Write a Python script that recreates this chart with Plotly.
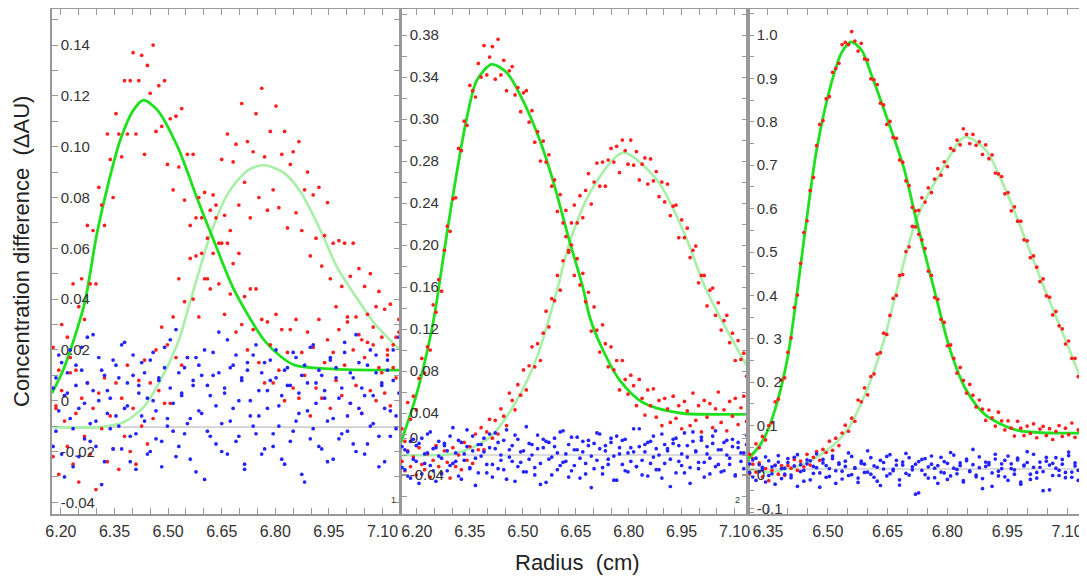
import plotly.graph_objects as go

# ---------------- data ----------------
# radius grids (cm)
p1_radius = [6.178, 6.186, 6.194, 6.202, 6.210, 6.218, 6.226, 6.234, 6.242, 6.250,
             6.258, 6.266, 6.274, 6.282, 6.290, 6.298, 6.306, 6.314, 6.322, 6.330,
             6.338, 6.346, 6.354, 6.362, 6.370, 6.378, 6.386, 6.394, 6.402, 6.410,
             6.418, 6.426, 6.434, 6.442, 6.450, 6.458, 6.466, 6.474, 6.482, 6.490,
             6.498, 6.506, 6.514, 6.522, 6.530, 6.538, 6.546, 6.554, 6.562, 6.570,
             6.578, 6.586, 6.594, 6.602, 6.610, 6.618, 6.626, 6.634, 6.642, 6.650,
             6.658, 6.666, 6.674, 6.682, 6.690, 6.698, 6.706, 6.714, 6.722, 6.730,
             6.738, 6.746, 6.754, 6.762, 6.770, 6.778, 6.786, 6.794, 6.802, 6.810,
             6.818, 6.826, 6.834, 6.842, 6.850, 6.858, 6.866, 6.874, 6.882, 6.890,
             6.898, 6.906, 6.914, 6.922, 6.930, 6.938, 6.946, 6.954, 6.962, 6.970,
             6.978, 6.986, 6.994, 7.002, 7.010, 7.018, 7.026, 7.034, 7.042, 7.050,
             7.058, 7.066, 7.074, 7.082, 7.090, 7.098, 7.106, 7.114, 7.122, 7.130,
             7.138, 7.146]
p2_radius = [6.158, 6.166, 6.174, 6.182, 6.190, 6.198, 6.206, 6.214, 6.222, 6.230,
             6.238, 6.246, 6.254, 6.262, 6.270, 6.278, 6.286, 6.294, 6.302, 6.310,
             6.318, 6.326, 6.334, 6.342, 6.350, 6.358, 6.366, 6.374, 6.382, 6.390,
             6.398, 6.406, 6.414, 6.422, 6.430, 6.438, 6.446, 6.454, 6.462, 6.470,
             6.478, 6.486, 6.494, 6.502, 6.510, 6.518, 6.526, 6.534, 6.542, 6.550,
             6.558, 6.566, 6.574, 6.582, 6.590, 6.598, 6.606, 6.614, 6.622, 6.630,
             6.638, 6.646, 6.654, 6.662, 6.670, 6.678, 6.686, 6.694, 6.702, 6.710,
             6.718, 6.726, 6.734, 6.742, 6.750, 6.758, 6.766, 6.774, 6.782, 6.790,
             6.798, 6.806, 6.814, 6.822, 6.830, 6.838, 6.846, 6.854, 6.862, 6.870,
             6.878, 6.886, 6.894, 6.902, 6.910, 6.918, 6.926, 6.934, 6.942, 6.950,
             6.958, 6.966, 6.974, 6.982, 6.990, 6.998, 7.006, 7.014, 7.022, 7.030,
             7.038, 7.046, 7.054, 7.062, 7.070, 7.078, 7.086, 7.094, 7.102, 7.110,
             7.118, 7.126, 7.134]
p3_radius = [6.304, 6.312, 6.320, 6.328, 6.336, 6.344, 6.352, 6.360, 6.368, 6.376,
             6.384, 6.392, 6.400, 6.408, 6.416, 6.424, 6.432, 6.440, 6.448, 6.456,
             6.464, 6.472, 6.480, 6.488, 6.496, 6.504, 6.512, 6.520, 6.528, 6.536,
             6.544, 6.552, 6.560, 6.568, 6.576, 6.584, 6.592, 6.600, 6.608, 6.616,
             6.624, 6.632, 6.640, 6.648, 6.656, 6.664, 6.672, 6.680, 6.688, 6.696,
             6.704, 6.712, 6.720, 6.728, 6.736, 6.744, 6.752, 6.760, 6.768, 6.776,
             6.784, 6.792, 6.800, 6.808, 6.816, 6.824, 6.832, 6.840, 6.848, 6.856,
             6.864, 6.872, 6.880, 6.888, 6.896, 6.904, 6.912, 6.920, 6.928, 6.936,
             6.944, 6.952, 6.960, 6.968, 6.976, 6.984, 6.992, 7.000, 7.008, 7.016,
             7.024, 7.032, 7.040, 7.048, 7.056, 7.064, 7.072, 7.080, 7.088, 7.096,
             7.104, 7.112, 7.120, 7.128, 7.136]

# ----- panel 1 -----
p1_red_a = [0.021, -0.003, 0.012, 0.030, 0.002, 0.025, 0.017, 0.046, 0.012, 0.037,
            0.048, 0.032, 0.069, 0.046, 0.067, 0.046, 0.084, 0.077, 0.069, 0.105,
            0.095, 0.080, 0.113, 0.105, 0.096, 0.126, 0.105, 0.126, 0.137, 0.105,
            0.126, 0.136, 0.097, 0.132, 0.121, 0.140, 0.106, 0.124, 0.108, 0.126,
            0.093, 0.111, 0.083, 0.112, 0.092, 0.115, 0.079, 0.097, 0.069, 0.097,
            0.072, 0.080, 0.058, 0.082, 0.048, 0.075, 0.058, 0.077, 0.046, 0.062,
            0.034, 0.062, 0.042, 0.054, 0.027, 0.058, 0.030, 0.041, 0.020, 0.044,
            0.028, 0.044, 0.015, 0.032, 0.007, 0.031, 0.022, 0.007, 0.034, 0.012,
            0.028, 0.000, 0.019, 0.028, 0.005, 0.032, 0.001, 0.019, 0.010, 0.027,
            -0.006, 0.021, 0.005, 0.032, 0.001, 0.015, 0.024, -0.003, 0.019, 0.008,
            0.028, 0.002, 0.014, 0.031, -0.001, 0.020, 0.006, 0.026, -0.005, 0.017,
            0.023, 0.004, 0.029, 0.000, 0.013, 0.025, 0.003, 0.018, -0.002, 0.022,
            0.009, 0.027]
p1_red_b = [-0.022, -0.002, -0.029, 0.004, -0.008, -0.018, 0.011, -0.025, -0.005, -0.032,
            0.001, -0.014, 0.007, -0.021, -0.003, -0.035, 0.003, -0.011, 0.009, -0.024,
            -0.006, -0.019, 0.007, -0.027, 0.001, -0.014, 0.014, -0.020, -0.003, -0.025,
            0.008, -0.010, 0.016, -0.017, 0.007, -0.007, 0.020, 0.004, 0.029, -0.001,
            0.022, -0.001, 0.033, 0.017, 0.048, 0.014, 0.039, 0.017, 0.056, 0.040,
            0.057, 0.033, 0.072, 0.048, 0.064, 0.044, 0.081, 0.072, 0.062, 0.095,
            0.073, 0.105, 0.067, 0.094, 0.101, 0.077, 0.117, 0.086, 0.102, 0.072,
            0.098, 0.113, 0.080, 0.123, 0.096, 0.075, 0.106, 0.083, 0.116, 0.076,
            0.097, 0.106, 0.068, 0.093, 0.098, 0.074, 0.102, 0.067, 0.083, 0.090,
            0.057, 0.081, 0.064, 0.084, 0.053, 0.065, 0.078, 0.048, 0.062, 0.037,
            0.063, 0.045, 0.062, 0.033, 0.049, 0.062, 0.033, 0.052, 0.024, 0.045,
            0.034, 0.050, 0.022, 0.037, 0.043, 0.011, 0.036, 0.020, 0.038, 0.013,
            0.025, 0.032]
p1_blue_a = [0.005, -0.012, 0.018, -0.021, 0.002, 0.011, -0.007, -0.026, 0.014, -0.003,
             0.021, -0.015, 0.007, -0.009, 0.026, -0.018, 0.000, 0.012, -0.024, 0.004,
             -0.011, 0.016, -0.006, 0.009, -0.019, 0.023, -0.002, -0.014, 0.010, -0.027,
             0.006, 0.015, -0.008, 0.001, -0.020, 0.019, -0.004, 0.008, -0.016, 0.013,
             -0.010, 0.024, -0.001, -0.022, 0.011, 0.003, -0.013, 0.017, -0.007, 0.006,
             -0.028, 0.014, -0.005, 0.020, -0.012, 0.002, 0.010, -0.017, 0.027, -0.009,
             0.005, -0.021, 0.013, -0.003, 0.018, -0.014, 0.008, -0.025, 0.015, 0.000,
             -0.010, 0.022, -0.006, 0.011, -0.019, 0.004, 0.016, -0.013, 0.009, -0.002,
             -0.023, 0.012, 0.006, -0.016, 0.019, -0.008, 0.003, -0.029, 0.014, -0.004,
             0.021, -0.011, 0.007, -0.018, 0.010, 0.001, -0.024, 0.017, -0.007, 0.013,
             -0.015, 0.005, 0.023, -0.012, -0.001, 0.009, -0.020, 0.015, -0.005, 0.002,
             -0.017, 0.020, -0.009, 0.011, -0.026, 0.006, -0.003, 0.016, -0.014, 0.008,
             -0.006, 0.025]
p1_blue_b = [-0.018, 0.009, -0.004, 0.015, -0.030, 0.003, 0.020, -0.011, 0.006, -0.022,
             0.012, -0.001, 0.025, -0.016, 0.004, -0.008, 0.017, -0.033, 0.010, -0.005,
             0.001, -0.019, 0.014, -0.010, 0.022, -0.003, 0.007, -0.024, 0.018, -0.013,
             0.003, -0.006, 0.011, -0.021, 0.016, 0.000, -0.015, 0.009, -0.026, 0.021,
             -0.007, 0.005, -0.012, 0.028, -0.018, 0.002, 0.013, -0.009, -0.023, 0.008,
             0.017, -0.004, 0.010, -0.031, 0.006, -0.014, 0.019, -0.002, 0.011, -0.020,
             0.003, 0.024, -0.008, 0.014, -0.016, 0.000, 0.009, -0.027, 0.012, -0.006,
             0.018, -0.013, 0.004, -0.021, 0.015, -0.003, 0.008, -0.018, 0.020, -0.010,
             0.002, -0.025, 0.013, 0.006, -0.012, 0.017, -0.005, 0.010, -0.032, 0.007,
             -0.015, 0.022, -0.001, 0.012, -0.019, 0.004, -0.008, 0.016, -0.023, 0.009,
             0.001, -0.013, 0.019, -0.006, 0.011, -0.017, 0.026, -0.003, 0.005, -0.021,
             0.014, -0.010, 0.002, 0.018, -0.014, 0.007, -0.024, 0.012, -0.004, 0.020,
             -0.011, 0.003]
p1_fit_dark_x = [6.175, 6.206, 6.245, 6.268, 6.301, 6.330, 6.366, 6.403, 6.431, 6.470,
                 6.527, 6.583, 6.628, 6.685, 6.769, 6.817, 6.854, 6.921, 7.000, 7.149]
p1_fit_dark_y = [0.003, 0.012, 0.028, 0.0395, 0.066, 0.084, 0.1026, 0.1144, 0.1183, 0.1144,
                 0.0998, 0.079, 0.063, 0.0435, 0.0238, 0.0172, 0.014, 0.0128, 0.0122, 0.012]
p1_fit_light_x = [6.175, 6.310, 6.375, 6.431, 6.479, 6.527, 6.563, 6.620, 6.668, 6.724,
                  6.769, 6.825, 6.873, 6.930, 6.973, 7.030, 7.080, 7.149]
p1_fit_light_y = [-0.0104, -0.0104, -0.0085, -0.0026, 0.0081, 0.0227, 0.0396, 0.066, 0.0817, 0.0908,
                  0.0927, 0.0896, 0.0817, 0.066, 0.0525, 0.040, 0.030, 0.020]
p1_baseline = -0.0104
p1_ytick_vals = [0.14, 0.12, 0.10, 0.08, 0.06, 0.04, 0.02, 0.0, -0.02, -0.04]
p1_ytick_text = ["0.14", "0.12", "0.10", "0.08", "0.06", "0.04", "0.02", "0", "-0.02", "-0.04"]
p1_xtick_vals = [6.20, 6.35, 6.50, 6.65, 6.80, 6.95, 7.10]

# ----- panel 2 -----
p2_red_a = [0.025, 0.013, 0.050, 0.034, 0.056, 0.043, 0.073, 0.092, 0.078, 0.103,
            0.100, 0.143, 0.136, 0.167, 0.156, 0.195, 0.218, 0.213, 0.244, 0.245,
            0.292, 0.290, 0.318, 0.314, 0.352, 0.347, 0.341, 0.373, 0.360, 0.390,
            0.362, 0.379, 0.389, 0.358, 0.396, 0.362, 0.376, 0.347, 0.366, 0.370,
            0.343, 0.350, 0.327, 0.345, 0.347, 0.317, 0.328, 0.298, 0.308, 0.280,
            0.299, 0.279, 0.286, 0.256, 0.262, 0.232, 0.248, 0.221, 0.233, 0.195,
            0.200, 0.171, 0.187, 0.162, 0.173, 0.146, 0.155, 0.118, 0.141, 0.119,
            0.098, 0.124, 0.106, 0.084, 0.103, 0.081, 0.090, 0.062, 0.090, 0.072,
            0.058, 0.076, 0.066, 0.047, 0.072, 0.054, 0.038, 0.062, 0.047, 0.063,
            0.036, 0.052, 0.028, 0.054, 0.044, 0.031, 0.056, 0.035, 0.047, 0.025,
            0.051, 0.042, 0.028, 0.059, 0.033, 0.047, 0.022, 0.052, 0.036, 0.049,
            0.026, 0.044, 0.060, 0.031, 0.043, 0.023, 0.051, 0.037, 0.054, 0.029,
            0.045, 0.056, 0.032]
p2_red_b = [-0.006, -0.015, 0.004, -0.011, -0.002, -0.019, 0.007, -0.009, -0.014, 0.001,
            -0.021, -0.005, 0.009, -0.011, -0.017, 0.004, -0.007, -0.022, 0.007, -0.011,
            0.000, -0.014, 0.012, -0.005, 0.008, -0.008, 0.020, 0.005, 0.026, 0.005,
            0.022, 0.034, 0.016, 0.033, 0.020, 0.044, 0.037, 0.028, 0.059, 0.052,
            0.043, 0.067, 0.057, 0.081, 0.062, 0.085, 0.103, 0.084, 0.106, 0.090,
            0.116, 0.137, 0.122, 0.149, 0.147, 0.171, 0.157, 0.185, 0.208, 0.193,
            0.221, 0.238, 0.221, 0.247, 0.226, 0.252, 0.268, 0.239, 0.260, 0.278,
            0.256, 0.279, 0.256, 0.281, 0.292, 0.279, 0.294, 0.269, 0.300, 0.290,
            0.277, 0.300, 0.276, 0.289, 0.262, 0.277, 0.283, 0.258, 0.282, 0.261,
            0.270, 0.246, 0.260, 0.241, 0.258, 0.228, 0.237, 0.238, 0.207, 0.224,
            0.207, 0.216, 0.188, 0.195, 0.199, 0.164, 0.171, 0.171, 0.142, 0.157,
            0.159, 0.133, 0.145, 0.119, 0.128, 0.133, 0.107, 0.116, 0.090, 0.109,
            0.091, 0.097, 0.075]
p2_blue_a = [0.008, -0.014, 0.003, -0.022, 0.015, -0.006, 0.011, -0.018, 0.001, 0.020,
             -0.010, 0.006, -0.025, 0.013, -0.003, 0.009, -0.015, 0.018, -0.008, 0.002,
             -0.020, 0.012, -0.005, 0.024, -0.012, 0.004, -0.029, 0.010, -0.001, 0.016,
             -0.017, 0.007, -0.009, 0.021, -0.013, 0.000, 0.014, -0.023, 0.005, -0.006,
             0.019, -0.011, 0.003, -0.016, 0.027, -0.004, 0.010, -0.019, 0.006, -0.008,
             0.015, -0.026, 0.012, -0.002, 0.008, -0.014, 0.022, -0.007, 0.001, -0.021,
             0.017, -0.010, 0.005, -0.003, 0.013, -0.018, 0.009, -0.031, 0.011, -0.005,
             0.020, -0.012, 0.004, -0.009, 0.016, -0.001, -0.024, 0.007, 0.014, -0.015,
             0.002, -0.006, 0.025, -0.011, 0.008, -0.019, 0.003, 0.012, -0.008, 0.018,
             -0.014, 0.000, -0.022, 0.010, 0.006, -0.004, 0.015, -0.017, 0.009, -0.010,
             0.021, -0.002, -0.027, 0.013, 0.004, -0.013, 0.017, -0.007, 0.001, -0.018,
             0.011, 0.023, -0.009, 0.005, -0.015, 0.014, -0.003, 0.008, -0.020, 0.012,
             -0.006, 0.002, 0.019]
p2_blue_b = [-0.012, 0.005, -0.020, 0.013, -0.004, 0.009, -0.027, 0.016, -0.008, 0.002,
             0.022, -0.015, 0.007, -0.001, -0.018, 0.011, 0.004, -0.010, 0.026, -0.006,
             0.014, -0.023, 0.001, 0.008, -0.013, 0.018, -0.003, -0.017, 0.010, 0.003,
             -0.009, 0.020, -0.021, 0.006, 0.012, -0.005, -0.014, 0.024, -0.002, 0.009,
             -0.025, 0.015, -0.007, 0.004, -0.016, 0.011, 0.000, -0.012, 0.019, -0.028,
             0.007, 0.013, -0.004, -0.019, 0.016, 0.002, -0.010, 0.023, -0.006, 0.010,
             -0.015, 0.005, 0.017, -0.022, 0.003, -0.008, 0.014, -0.001, -0.013, 0.021,
             0.006, -0.018, 0.009, -0.004, 0.012, -0.024, 0.018, 0.001, -0.009, 0.015,
             -0.016, 0.007, 0.003, -0.011, 0.025, -0.005, 0.010, -0.020, 0.013, -0.002,
             0.006, -0.014, 0.020, -0.008, 0.004, -0.030, 0.011, 0.016, -0.006, 0.001,
             -0.017, 0.009, -0.012, 0.022, 0.003, -0.007, 0.014, -0.021, 0.008, -0.003,
             0.018, -0.011, 0.005, -0.016, 0.012, 0.000, -0.009, 0.015, -0.019, 0.007,
             0.002, -0.013, 0.010]
p2_fit_dark_x = [6.155, 6.194, 6.217, 6.242, 6.257, 6.285, 6.313, 6.342, 6.370, 6.412,
                 6.455, 6.500, 6.548, 6.585, 6.633, 6.670, 6.690, 6.727, 6.775, 6.840, 6.945, 7.138]
p2_fit_dark_y = [0.012, 0.052, 0.081, 0.119, 0.148, 0.211, 0.269, 0.322, 0.357, 0.372,
                 0.364, 0.338, 0.300, 0.262, 0.203, 0.160, 0.131, 0.100, 0.071, 0.050, 0.040, 0.039]
p2_fit_light_x = [6.155, 6.313, 6.407, 6.483, 6.540, 6.597, 6.633, 6.699, 6.784, 6.880,
                  6.954, 7.016, 7.067, 7.138]
p2_fit_light_y = [0.000, 0.002, 0.017, 0.052, 0.093, 0.157, 0.203, 0.255, 0.288, 0.262,
                  0.214, 0.160, 0.126, 0.083]
p2_baseline = 0.0
p2_ytick_vals = [0.40, 0.36, 0.32, 0.28, 0.24, 0.20, 0.16, 0.12, 0.08, 0.04, 0.016, -0.019]
p2_ytick_text = ["0.38", "0.34", "0.30", "0.28", "0.24", "0.20", "0.16", "0.12", "0.08", "0.04", "0", "-0.04"]
p2_xtick_vals = [6.20, 6.35, 6.50, 6.65, 6.80, 6.95, 7.10]

# ----- panel 3 -----
p3_red_a = [0.034, 0.024, 0.058, 0.049, 0.075, 0.067, 0.100, 0.107, 0.155, 0.161,
            0.205, 0.210, 0.269, 0.302, 0.372, 0.401, 0.474, 0.545, 0.572, 0.642,
            0.672, 0.745, 0.794, 0.803, 0.853, 0.858, 0.914, 0.923, 0.935, 0.978,
            0.983, 0.978, 1.008, 0.986, 0.963, 0.981, 0.945, 0.943, 0.899, 0.897,
            0.886, 0.843, 0.839, 0.794, 0.801, 0.764, 0.762, 0.712, 0.707, 0.664,
            0.653, 0.603, 0.595, 0.541, 0.528, 0.508, 0.456, 0.446, 0.395, 0.391,
            0.345, 0.338, 0.284, 0.286, 0.255, 0.221, 0.234, 0.204, 0.175, 0.195,
            0.170, 0.143, 0.159, 0.138, 0.112, 0.136, 0.118, 0.099, 0.131, 0.111,
            0.090, 0.111, 0.094, 0.076, 0.110, 0.094, 0.077, 0.099, 0.082, 0.104,
            0.072, 0.092, 0.098, 0.077, 0.093, 0.068, 0.087, 0.100, 0.075, 0.094,
            0.079, 0.106, 0.073, 0.090, 0.097]
p3_red_b = [-0.010, 0.011, -0.007, 0.014, -0.018, 0.001, -0.027, -0.003, 0.009, -0.012,
            0.008, -0.015, 0.008, 0.002, 0.022, -0.003, 0.018, 0.005, 0.034, 0.009,
            0.027, 0.040, 0.020, 0.045, 0.038, 0.064, 0.043, 0.071, 0.054, 0.083,
            0.101, 0.087, 0.117, 0.110, 0.159, 0.155, 0.187, 0.171, 0.213, 0.219,
            0.265, 0.268, 0.313, 0.310, 0.354, 0.393, 0.400, 0.446, 0.448, 0.501,
            0.512, 0.559, 0.558, 0.596, 0.625, 0.615, 0.648, 0.637, 0.668, 0.692,
            0.677, 0.708, 0.697, 0.739, 0.734, 0.758, 0.747, 0.784, 0.771, 0.750,
            0.771, 0.746, 0.754, 0.725, 0.747, 0.715, 0.724, 0.682, 0.680, 0.674,
            0.634, 0.637, 0.595, 0.604, 0.571, 0.571, 0.528, 0.526, 0.487, 0.491,
            0.465, 0.432, 0.438, 0.399, 0.396, 0.355, 0.363, 0.330, 0.323, 0.288,
            0.295, 0.255, 0.255, 0.213, 0.210]
p3_blue_a = [0.012, -0.018, 0.025, -0.006, 0.004, -0.030, 0.019, -0.011, 0.008, 0.031,
             -0.022, 0.002, 0.015, -0.014, 0.027, -0.040, 0.010, -0.003, 0.021, -0.025,
             0.006, 0.035, -0.009, 0.014, -0.019, 0.001, 0.024, -0.033, 0.011, -0.005,
             0.018, -0.015, 0.029, 0.003, -0.021, 0.013, -0.008, 0.042, -0.012, 0.007,
             -0.028, 0.020, 0.000, -0.016, 0.033, -0.004, 0.009, -0.037, 0.016, -0.010,
             0.026, -0.002, 0.011, -0.055, 0.022, -0.013, 0.005, 0.030, -0.020, 0.008,
             -0.007, 0.017, -0.024, 0.038, 0.002, -0.011, 0.014, -0.030, 0.023, -0.004,
             0.010, -0.018, 0.028, -0.045, 0.006, 0.015, -0.009, 0.034, -0.016, 0.001,
             0.020, -0.026, 0.012, -0.002, 0.025, -0.035, 0.009, 0.040, -0.012, 0.004,
             -0.021, 0.016, -0.006, 0.027, -0.048, 0.013, 0.002, -0.015, 0.022, -0.008,
             0.031, -0.019, 0.007, -0.003, 0.018]
p3_blue_b = [-0.008, 0.021, -0.026, 0.010, -0.002, 0.028, -0.015, 0.005, -0.035, 0.016,
             0.001, -0.012, 0.024, -0.020, 0.007, 0.033, -0.006, -0.028, 0.012, 0.019,
             -0.010, 0.003, -0.042, 0.022, 0.008, -0.017, 0.030, -0.004, 0.014, -0.023,
             0.006, 0.037, -0.013, 0.002, -0.031, 0.018, 0.011, -0.007, 0.026, -0.019,
             0.004, -0.038, 0.015, 0.029, -0.011, 0.000, 0.020, -0.025, 0.009, 0.036,
             -0.014, 0.005, -0.058, 0.017, -0.003, 0.024, -0.021, 0.011, 0.002, -0.033,
             0.027, -0.009, 0.013, -0.016, 0.032, -0.001, 0.008, -0.027, 0.019, -0.006,
             0.045, -0.014, 0.003, -0.022, 0.016, 0.010, -0.040, 0.023, -0.005, 0.012,
             -0.018, 0.030, 0.001, -0.012, 0.021, -0.030, 0.007, 0.015, -0.024, 0.034,
             -0.008, 0.004, -0.050, 0.018, 0.009, -0.015, 0.026, -0.003, 0.011, -0.020,
             0.039, -0.007, 0.014, -0.026, 0.006]
p3_fit_dark_x = [6.300, 6.330, 6.350, 6.375, 6.400, 6.420, 6.447, 6.472, 6.509, 6.535,
                 6.559, 6.585, 6.608, 6.648, 6.690, 6.722, 6.765, 6.807, 6.847, 6.896,
                 6.971, 7.055, 7.150]
p3_fit_dark_y = [0.022, 0.055, 0.090, 0.160, 0.260, 0.385, 0.575, 0.735, 0.889, 0.960,
                 0.984, 0.965, 0.912, 0.810, 0.696, 0.574, 0.420, 0.274, 0.182, 0.124,
                 0.090, 0.083, 0.083]
p3_fit_light_x = [6.300, 6.350, 6.434, 6.499, 6.549, 6.598, 6.641, 6.675, 6.722, 6.782,
                  6.844, 6.896, 6.946, 6.996, 7.045, 7.095, 7.150]
p3_fit_light_y = [0.000, -0.007, 0.009, 0.044, 0.090, 0.182, 0.297, 0.420, 0.574, 0.682,
                  0.765, 0.735, 0.643, 0.528, 0.412, 0.300, 0.172]
p3_baseline = 0.0
p3_ytick_vals = [1.0, 0.9, 0.8, 0.7, 0.6, 0.5, 0.4, 0.3, 0.2, 0.1, -0.014, -0.092]
p3_ytick_text = ["1.0", "0.9", "0.8", "0.7", "0.6", "0.5", "0.4", "0. 3", "0. 2", "0.1", "0", "-0.1"]
p3_xtick_vals = [6.35, 6.50, 6.65, 6.80, 6.95, 7.10]

# ---------------- figure ----------------
# The page body adds an 8 px margin, so the figure is 8 px smaller than the
# window and all reference pixel positions are shifted by that offset.
WIN_W, WIN_H = 1087, 580
OFF = 8
W, H = WIN_W - OFF, WIN_H - OFF


def fx(px):
    return (px - OFF) / W


def fy(py):
    return 1 - (py - OFF) / H


FONT = "Liberation Sans, Arial, Helvetica, sans-serif"
RED = "#ff1f1f"
BLUE = "#2424ff"
DARK_GREEN = "#1ee01e"
LIGHT_GREEN = "#a8efa8"
AXIS_GRAY = "#999999"

panels = [
    dict(radius=p1_radius, ra=p1_red_a, rb=p1_red_b, ba=p1_blue_a, bb=p1_blue_b,
         dx=p1_fit_dark_x, dy=p1_fit_dark_y, lx=p1_fit_light_x, ly=p1_fit_light_y,
         base=p1_baseline, yv=p1_ytick_vals, yt=p1_ytick_text, xv=p1_xtick_vals,
         xr=[6.175, 7.149], yr=[-0.0446, 0.1542], px=(52, 400), ymin=0.01, mirror_y=True),
    dict(radius=p2_radius, ra=p2_red_a, rb=p2_red_b, ba=p2_blue_a, bb=p2_blue_b,
         dx=p2_fit_dark_x, dy=p2_fit_dark_y, lx=p2_fit_light_x, ly=p2_fit_light_y,
         base=p2_baseline, yv=p2_ytick_vals, yt=p2_ytick_text, xv=p2_xtick_vals,
         xr=[6.155, 7.138], yr=[-0.0562, 0.4248], px=(401, 748), ymin=0.02, mirror_y=True),
    dict(radius=p3_radius, ra=p3_red_a, rb=p3_red_b, ba=p3_blue_a, bb=p3_blue_b,
         dx=p3_fit_dark_x, dy=p3_fit_dark_y, lx=p3_fit_light_x, ly=p3_fit_light_y,
         base=p3_baseline, yv=p3_ytick_vals, yt=p3_ytick_text, xv=p3_xtick_vals,
         xr=[6.300, 7.150], yr=[-0.1037, 1.060], px=(748, 1087), ymin=0.05, mirror_y=False),
]

fig = go.Figure()
ydom = [fy(514), fy(9)]


def pair(xs, ys):
    n = min(len(xs), len(ys))
    return list(xs[:n]), list(ys[:n])


layout_axes = {}
for i, p in enumerate(panels, start=1):
    xa = "x" if i == 1 else f"x{i}"
    ya = "y" if i == 1 else f"y{i}"
    # fitted curves
    fig.add_trace(go.Scatter(x=p["lx"], y=p["ly"], mode="lines", xaxis=xa, yaxis=ya,
                             line=dict(color=LIGHT_GREEN, width=2.6, shape="spline", smoothing=0.8),
                             showlegend=False, hoverinfo="skip"))
    fig.add_trace(go.Scatter(x=p["dx"], y=p["dy"], mode="lines", xaxis=xa, yaxis=ya,
                             line=dict(color=DARK_GREEN, width=2.8, shape="spline", smoothing=0.8),
                             showlegend=False, hoverinfo="skip"))
    # data points
    for key in ("rb", "ra"):
        xs, ys = pair(p["radius"], p[key])
        fig.add_trace(go.Scatter(x=xs, y=ys, mode="markers", xaxis=xa, yaxis=ya,
                                 marker=dict(color=RED, size=3.7, line=dict(width=0)),
                                 showlegend=False))
    for key in ("ba", "bb"):
        xs, ys = pair(p["radius"], p[key])
        fig.add_trace(go.Scatter(x=xs, y=ys, mode="markers", xaxis=xa, yaxis=ya,
                                 marker=dict(color=BLUE, size=3.7, line=dict(width=0)),
                                 showlegend=False))
    # zero line
    fig.add_shape(type="line", xref=f"{xa} domain", yref=ya, x0=0, x1=1,
                  y0=p["base"], y1=p["base"], line=dict(color="#cfcfcf", width=1.6), layer="below")

    x0, x1 = p["px"]
    xkey = "xaxis" if i == 1 else f"xaxis{i}"
    ykey = "yaxis" if i == 1 else f"yaxis{i}"
    layout_axes[xkey] = dict(
        domain=[fx(x0), min(fx(x1), 1.0)], range=p["xr"], anchor=ya, automargin=False,
        tickmode="array", tickvals=p["xv"], ticktext=[f"{v:.2f}" for v in p["xv"]],
        ticks="inside", ticklen=6, tickcolor=AXIS_GRAY, tickwidth=1.2,
        ticklabelstandoff=2,
        minor=dict(tickmode="linear", tick0=6.20, dtick=0.05, ticks="inside",
                   ticklen=6, tickcolor=AXIS_GRAY, tickwidth=1.2),
        showline=True, linecolor=AXIS_GRAY, linewidth=1.5, mirror="allticks",
        showgrid=False, zeroline=False,
        tickfont=dict(family=FONT, size=16, color="#333333"),
    )
    layout_axes[ykey] = dict(
        domain=ydom, range=p["yr"], anchor=xa, automargin=False,
        tickmode="array", tickvals=p["yv"], ticktext=p["yt"],
        ticks="inside", ticklen=6, tickcolor=AXIS_GRAY, tickwidth=1.2,
        ticklabelposition="inside", ticklabeloverflow="allow",
        ticklabelstandoff=3,
        minor=dict(tickmode="linear", tick0=0, dtick=p["ymin"], ticks="inside",
                   ticklen=6, tickcolor=AXIS_GRAY, tickwidth=1.2),
        showline=True, linecolor=AXIS_GRAY, linewidth=1.5,
        mirror="allticks" if p["mirror_y"] else False,
        showgrid=False, zeroline=False,
        tickfont=dict(family=FONT, size=15, color="#333333"),
    )

fig.update_layout(
    width=W, height=H,
    margin=dict(l=0, r=0, t=0, b=0, autoexpand=False),
    paper_bgcolor="white", plot_bgcolor="white",
    showlegend=False,
    **layout_axes,
)

fig.add_annotation(text="Concentration difference  (\u0394AU)", xref="paper", yref="paper",
                   x=fx(21), y=fy(252), textangle=-90, showarrow=False,
                   font=dict(family=FONT, size=22, color="#222222"),
                   xanchor="center", yanchor="middle")
fig.add_annotation(text="Radius  (cm)", xref="paper", yref="paper",
                   x=fx(577), y=fy(562), showarrow=False,
                   font=dict(family=FONT, size=22, color="#222222"),
                   xanchor="center", yanchor="middle")
fig.add_annotation(text="1", xref="paper", yref="paper", x=fx(393), y=fy(507),
                   showarrow=False, font=dict(family=FONT, size=9, color="#333333"))
fig.add_annotation(text="2", xref="paper", yref="paper", x=fx(742), y=fy(507),
                   showarrow=False, font=dict(family=FONT, size=9, color="#333333"))

fig.write_html("out.html")
